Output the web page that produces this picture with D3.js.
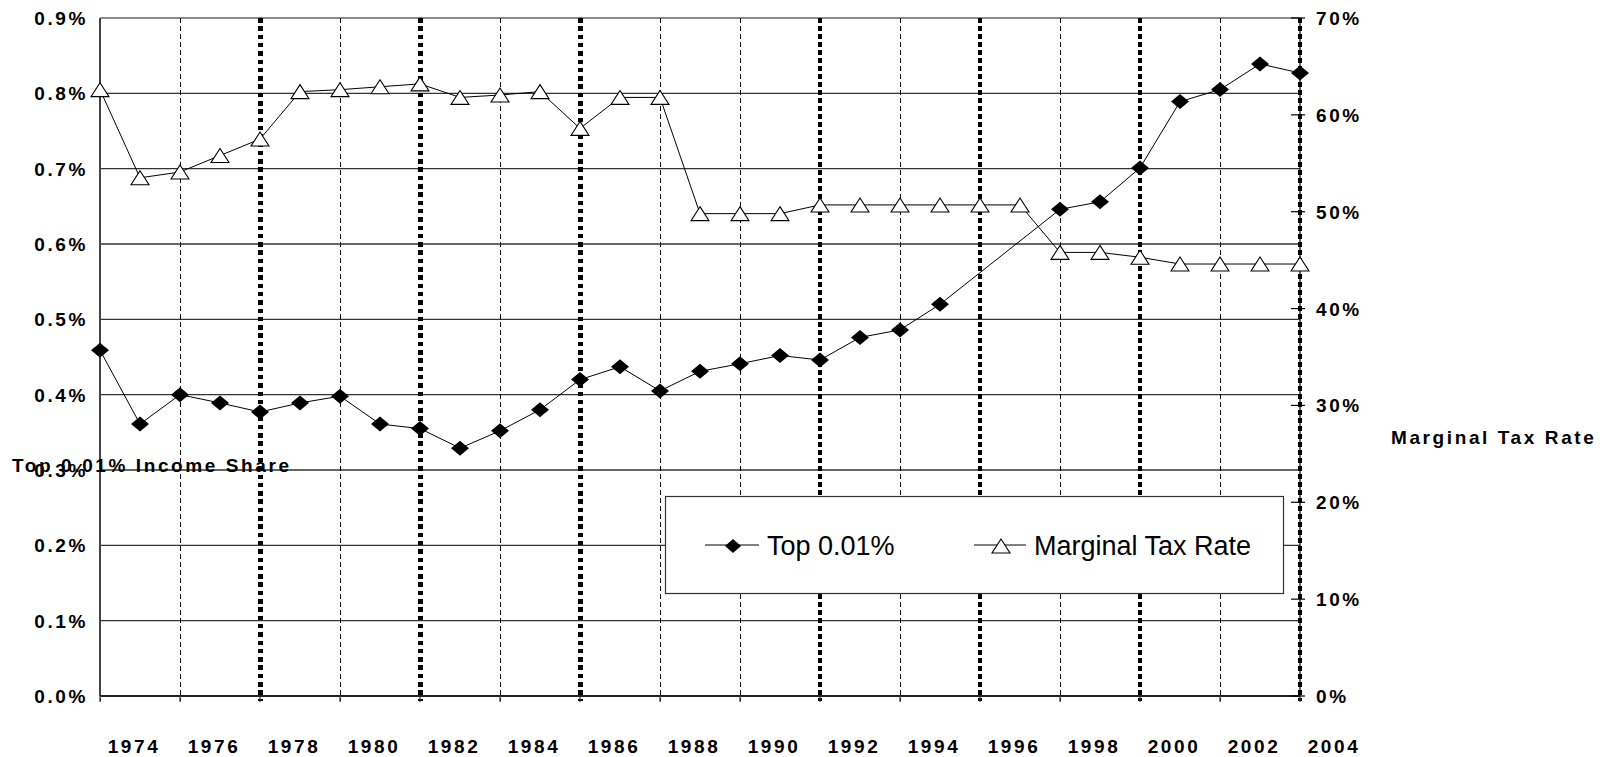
<!DOCTYPE html>
<html>
<head>
<meta charset="utf-8">
<script src="https://cdnjs.cloudflare.com/ajax/libs/d3/7.8.5/d3.min.js"></script>
<style>
  body { margin: 0; background: #fff; }
  svg { display: block; }
  .lab { font-family: "Liberation Sans", Arial, sans-serif; font-weight: bold; font-size: 19px; letter-spacing: 2.6px; fill: #000; }
  .leg { font-family: "Liberation Sans", Arial, sans-serif; font-size: 27px; fill: #000; }
</style>
</head>
<body>
<svg id="chart" width="1613" height="757"></svg>
<script>
/* SECTION: data */

var years = d3.range(1973, 2004);
// top 0.01% income share (%), 1995 and 1996 missing
var topShare = [0.459, 0.361, 0.400, 0.389, 0.377, 0.389, 0.398, 0.361, 0.355, 0.329,
                0.352, 0.380, 0.420, 0.437, 0.405, 0.431, 0.441, 0.452, 0.446, 0.476,
                0.486, 0.520, null, null, 0.646, 0.656, 0.701, 0.789, 0.805, 0.839, 0.827];
// marginal tax rate (%)
var taxRate = [62.6, 53.5, 54.1, 55.8, 57.5, 62.4, 62.6, 62.9, 63.2, 61.8,
               62.05, 62.4, 58.6, 61.8, 61.8, 49.8, 49.8, 49.8, 50.7, 50.7,
               50.7, 50.7, 50.7, 50.7, 45.8, 45.8, 45.3, 44.6, 44.6, 44.6, 44.6];
var leftTicks = [0, 0.1, 0.2, 0.3, 0.4, 0.5, 0.6, 0.7, 0.8, 0.9];
var rightTicks = [0, 10, 20, 30, 40, 50, 60, 70];
var yearLabels = d3.range(1974, 2005, 2);
var gridYears = d3.range(1973, 2004, 2);
var heavyYears = [1977, 1981, 1985];
var mediumYears = [1991, 1995, 1999, 2003];

/* SECTION: scales */

var svg = d3.select("#chart");
var pL = 100, pR = 1300, pT = 18, pB = 696;

var x = d3.scaleLinear().domain([1973, 2003]).range([pL, pR]);
var yL = d3.scaleLinear().domain([0, 0.9]).range([pB, pT]);
var yR = d3.scaleLinear().domain([0, 70]).range([pB, pT]);

/* SECTION: grid */

svg.append("g").selectAll("line").data(leftTicks).enter().append("line")
    .attr("x1", pL).attr("x2", pR)
    .attr("y1", function(d) { return yL(d); })
    .attr("y2", function(d) { return yL(d); })
    .attr("stroke", function(d) { return d == 0.9 ? "#666" : "#333"; })
    .attr("stroke-width", 1.3);

svg.append("g").attr("shape-rendering", "crispEdges")
    .selectAll("line").data(gridYears).enter().append("line")
    .attr("x1", function(d) { return x(d); })
    .attr("x2", function(d) { return x(d); })
    .attr("y1", pT).attr("y2", pB + 5)
    .attr("stroke", "#000")
    .attr("stroke-width", function(d) {
      if (heavyYears.indexOf(d) >= 0) return 5;
      if (mediumYears.indexOf(d) >= 0) return 3.2;
      return 1;
    })
    .attr("stroke-dasharray", function(d) {
      if (heavyYears.indexOf(d) >= 0) return "4.5,3.8";
      if (mediumYears.indexOf(d) >= 0) return "4.5,3.5";
      return "5,3";
    });

// axes lines
svg.append("line").attr("x1", pL).attr("x2", pL).attr("y1", pT).attr("y2", pB)
    .attr("stroke", "#444").attr("stroke-width", 2);
svg.append("line").attr("x1", pL).attr("x2", pR).attr("y1", pB).attr("y2", pB)
    .attr("stroke", "#222").attr("stroke-width", 2);
svg.append("line").attr("x1", pR).attr("x2", pR).attr("y1", pT).attr("y2", pB)
    .attr("stroke", "#000").attr("stroke-width", 1.2);

svg.selectAll("line.bt").data(gridYears).enter().append("line")
    .attr("x1", function(d) { return x(d); })
    .attr("x2", function(d) { return x(d); })
    .attr("y1", pB).attr("y2", pB + 6)
    .attr("stroke", "#333").attr("stroke-width", 1.2);

svg.selectAll("line.rt").data(rightTicks).enter().append("line")
    .attr("x1", pR - 9).attr("x2", pR + 5)
    .attr("y1", function(d) { return yR(d); })
    .attr("y2", function(d) { return yR(d); })
    .attr("stroke", "#000").attr("stroke-width", 1.2);

/* SECTION: labels */

svg.selectAll("text.yl").data(leftTicks).enter().append("text")
    .attr("class", "lab")
    .attr("x", 88)
    .attr("y", function(d) { return yL(d) + 7; })
    .attr("text-anchor", "end")
    .text(function(d) { return d.toFixed(1) + "%"; });

svg.selectAll("text.yr").data(rightTicks).enter().append("text")
    .attr("class", "lab")
    .attr("x", 1316)
    .attr("y", function(d) { return yR(d) + 7; })
    .text(function(d) { return d + "%"; });

svg.selectAll("text.xl").data(yearLabels).enter().append("text")
    .attr("class", "lab")
    .attr("x", function(d) { return x(d) - 6; })
    .attr("y", 753)
    .attr("text-anchor", "middle")
    .text(function(d) { return d; });

svg.append("text").attr("class", "lab").attr("x", 12).attr("y", 472)
    .text("Top 0.01% Income Share");
svg.append("text").attr("class", "lab").attr("x", 1391).attr("y", 444)
    .text("Marginal Tax Rate");

/* SECTION: series */

function diamond(sel, w, h) {
  sel.attr("d", "M0," + (-h/2) + "L" + (w/2) + ",0L0," + (h/2) + "L" + (-w/2) + ",0Z")
     .attr("fill", "#000");
}
function triangle(sel, w, h) {
  sel.attr("d", "M0," + (-h/2) + "L" + (w/2) + "," + (h/2) + "L" + (-w/2) + "," + (h/2) + "Z")
     .attr("fill", "#fff").attr("stroke", "#000").attr("stroke-width", 1.1);
}

var taxPts = years.map(function(d, i) { return {year: d, v: taxRate[i]}; });
var topPts = years.map(function(d, i) { return {year: d, v: topShare[i]}; })
    .filter(function(d) { return d.v != null; });

svg.append("path").datum(taxPts)
    .attr("fill", "none").attr("stroke", "#000").attr("stroke-width", 1)
    .attr("d", d3.line().x(function(d) { return x(d.year); }).y(function(d) { return yR(d.v); }));

svg.append("path").datum(topPts)
    .attr("fill", "none").attr("stroke", "#000").attr("stroke-width", 1)
    .attr("d", d3.line().x(function(d) { return x(d.year); }).y(function(d) { return yL(d.v); }));

svg.selectAll("path.tri").data(taxPts).enter().append("path")
    .attr("transform", function(d) { return "translate(" + x(d.year) + "," + yR(d.v) + ")"; })
    .call(triangle, 18, 14);

svg.selectAll("path.dia").data(topPts).enter().append("path")
    .attr("transform", function(d) { return "translate(" + x(d.year) + "," + yL(d.v) + ")"; })
    .call(diamond, 18, 15);

/* SECTION: legend */

var leg = svg.append("g");
leg.append("rect").attr("x", 665.5).attr("y", 496.5).attr("width", 618).attr("height", 97)
    .attr("fill", "#fff").attr("stroke", "#333").attr("stroke-width", 1.2);

leg.append("line").attr("x1", 705).attr("x2", 759).attr("y1", 545).attr("y2", 545)
    .attr("stroke", "#000").attr("stroke-width", 1);
leg.append("path").attr("transform", "translate(733,546)").call(diamond, 16, 14);
leg.append("text").attr("class", "leg").attr("x", 767).attr("y", 555).text("Top 0.01%");

leg.append("line").attr("x1", 974).attr("x2", 1026).attr("y1", 545).attr("y2", 545)
    .attr("stroke", "#555").attr("stroke-width", 1.6);
leg.append("path").attr("transform", "translate(1001,546)").call(triangle, 18, 14);
leg.append("text").attr("class", "leg").attr("x", 1034).attr("y", 555).text("Marginal Tax Rate");
</script>
</body>
</html>
